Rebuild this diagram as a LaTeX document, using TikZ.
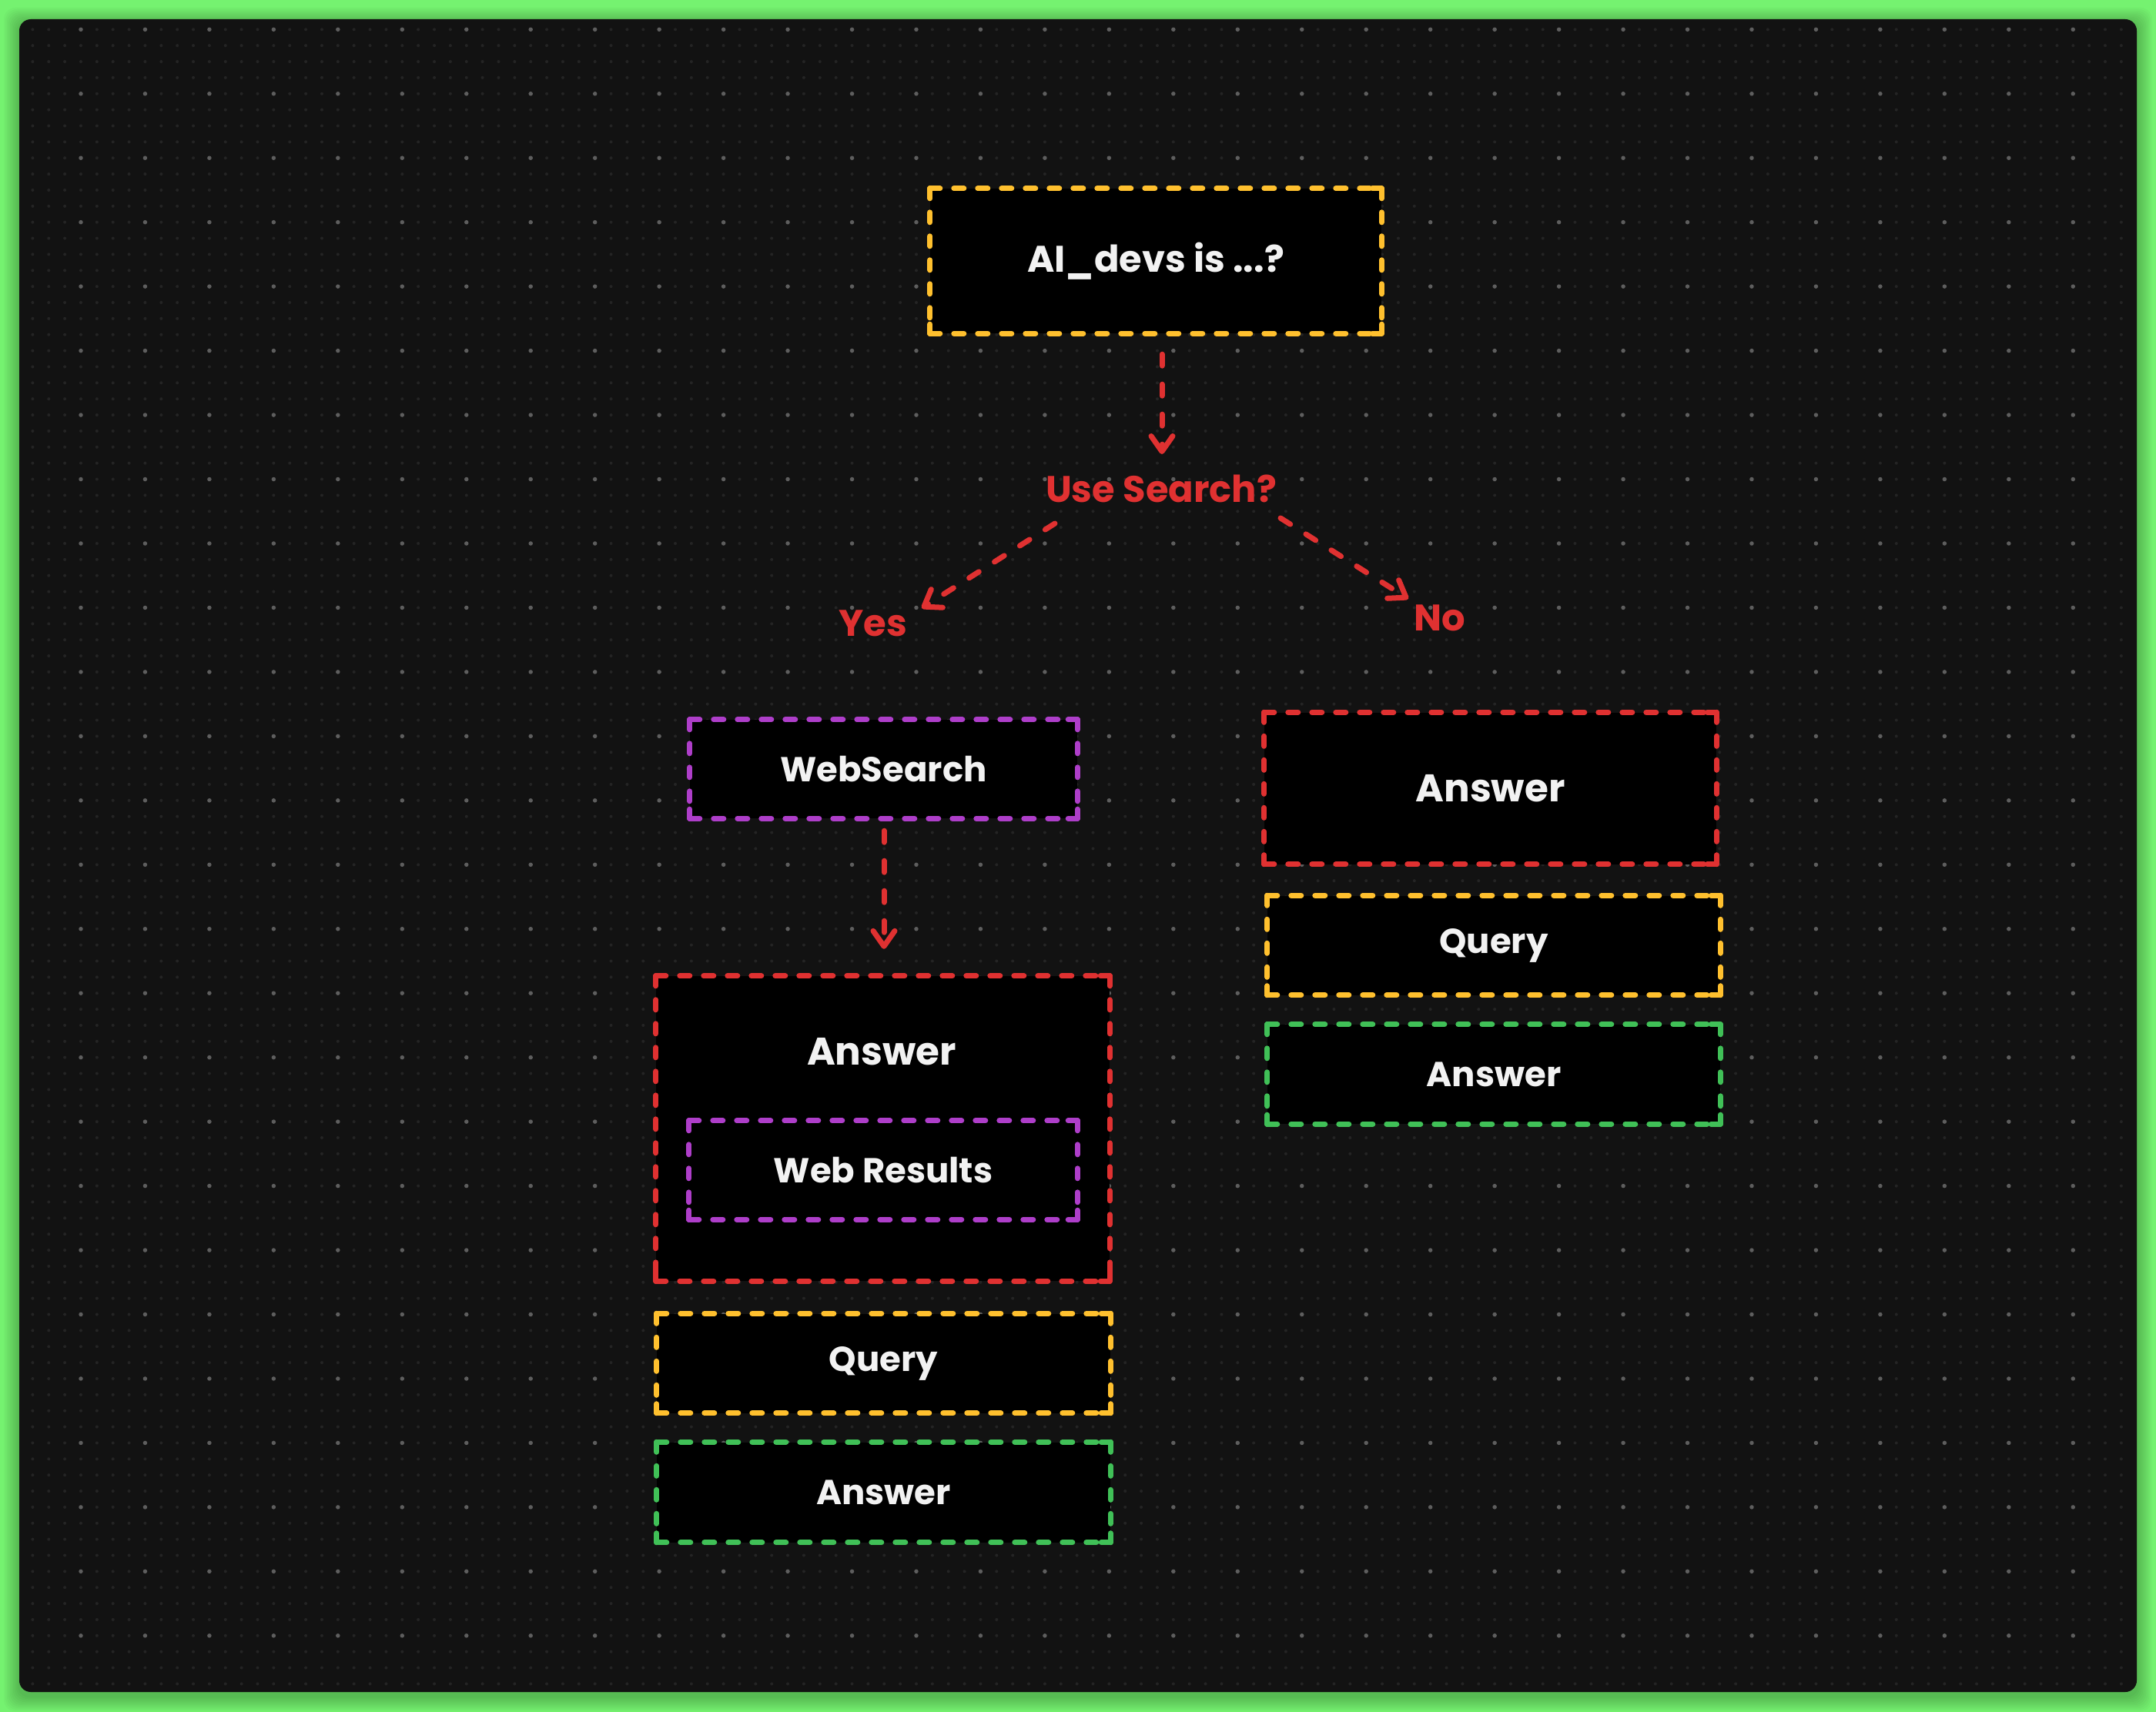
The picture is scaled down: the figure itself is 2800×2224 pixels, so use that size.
\documentclass[tikz,border=0pt]{standalone}
\usepackage{fontspec}
\setmainfont{Poppins}
\usetikzlibrary{arrows.meta}
\definecolor{bggreen}{HTML}{75F270}
\definecolor{panel}{HTML}{121212}
\definecolor{dotmin}{HTML}{242424}
\definecolor{dotmaj}{HTML}{5E5E5E}
\definecolor{exred}{HTML}{E03131}
\definecolor{exyellow}{HTML}{FFC02E}
\definecolor{expurple}{HTML}{AE3EC9}
\definecolor{exgreen}{HTML}{40C057}
\definecolor{txt}{HTML}{F2F2F2}
\newcommand\fsm{\fontsize{45pt}{52pt}\selectfont\bfseries}
\newcommand\ftop{\fontsize{48pt}{54pt}\selectfont\bfseries}
\newcommand\flab{\fontsize{48pt}{54pt}\selectfont\bfseries}
\newcommand\fbig{\fontsize{50pt}{58pt}\selectfont\bfseries}
\newcommand\dbox[2]{%
  \draw[bside,#2] (#1.north west) -- (#1.north east);
  \draw[bside,#2] (#1.north east) -- (#1.south east);
  \draw[bside,#2] (#1.south west) -- (#1.south east);
  \draw[bside,#2] (#1.north west) -- (#1.south west);
  \draw[bcorner,#2] ([shift={(0,12)}]#1.north west) -- (#1.north west) -- ([shift={(12,0)}]#1.north west);
  \draw[bcorner,#2] ([shift={(0,12)}]#1.north east) -- (#1.north east) -- ([shift={(-12,0)}]#1.north east);
  \draw[bcorner,#2] ([shift={(0,-12)}]#1.south west) -- (#1.south west) -- ([shift={(12,0)}]#1.south west);
  \draw[bcorner,#2] ([shift={(0,-12)}]#1.south east) -- (#1.south east) -- ([shift={(-12,0)}]#1.south east);
}
\begin{document}
\begin{tikzpicture}[x=1pt,y=-1pt,
  box/.style={fill=black, inner sep=0pt, text=txt, font=\fsm},
  lbl/.style={inner sep=0pt, text=exred, font=\flab},
  bside/.style={line width=7pt, line cap=round, dash pattern=on 13pt off 18pt},
  bcorner/.style={line width=7pt, line cap=round, line join=round},
  dmin/.style={draw=dotmin, line width=4pt, line cap=round, dash pattern=on 0pt off 20.865pt},
  dmaj/.style={draw=dotmaj, line width=5.5pt, line cap=round, dash pattern=on 0pt off 83.46pt},
  arr/.style={draw=exred, line width=7pt, line cap=round, dash pattern=on 15pt off 24pt,
    -{Straight Barb[length=20pt,width=28pt,round]}}
]
\useasboundingbox (0,0) rectangle (2800,2224);
\fill[bggreen] (0,0) rectangle (2800,2224);
% soft shadow of the panel
\foreach \i in {1,...,10}
  \fill[black, opacity=0.025, rounded corners=15pt] (25-2*\i, 25-2*\i+5) rectangle (2775+2*\i, 2198+2*\i+5);
\fill[panel, rounded corners=15pt] (25,25) rectangle (2775,2198);
% dot grid
\foreach \k in {0,...,103}
  \draw[dmin] (42.4, 38.3+\k*20.865) -- (2770, 38.3+\k*20.865);
\foreach \k in {0,...,25}
  \draw[dmaj] (105, 38.3+\k*83.46) -- (2770, 38.3+\k*83.46);

% nodes
\node[box, minimum width=586pt, minimum height=188pt, font=\ftop] (top) at (1501,339) {AI\_devs is ...?};
\node[lbl] (use) at (1508,635) {Use Search?};
\node[lbl] (yes) at (1134,810) {Yes};
\node[lbl] (no) at (1870,803) {No};

\node[box, minimum width=503pt, minimum height=128pt] (ws) at (1147.5,999) {WebSearch};
\node[box, minimum width=589pt, minimum height=396pt] (ansL) at (1146.5,1466) {};
\node[inner sep=0pt, text=txt, font=\fbig] (ansLt) at (1145,1366) {Answer};
\node[box, minimum width=504pt, minimum height=128pt] (wr) at (1147,1520) {Web Results};
\node[box, minimum width=589pt, minimum height=129pt] (qL) at (1147.5,1771) {Query};
\node[box, minimum width=589pt, minimum height=130pt] (aL) at (1147.5,1938.5) {Answer};

\node[box, minimum width=587pt, minimum height=197pt, font=\fbig] (ansR) at (1935.5,1024) {Answer};
\node[box, minimum width=588pt, minimum height=129pt] (qR) at (1940,1228) {Query};
\node[box, minimum width=588pt, minimum height=129pt] (aR) at (1940,1395.5) {Answer};

% borders
\dbox{top}{exyellow}
\dbox{ws}{expurple}
\dbox{ansL}{exred}
\dbox{wr}{expurple}
\dbox{qL}{exyellow}
\dbox{aL}{exgreen}
\dbox{ansR}{exred}
\dbox{qR}{exyellow}
\dbox{aR}{exgreen}

% connectors
\draw[arr] ([shift={(8,27)}]top.south) -- ([shift={(1,-45)}]use.center);
\draw[arr] ([shift={(-138,45)}]use.center) -- ([shift={(63,-20)}]yes.center);
\draw[arr] ([shift={(155,38)}]use.center) -- ([shift={(-41,-25)}]no.center);
\draw[arr] ([shift={(0.5,16)}]ws.south) -- ([shift={(1.5,-35)}]ansL.north);
\end{tikzpicture}
\end{document}
